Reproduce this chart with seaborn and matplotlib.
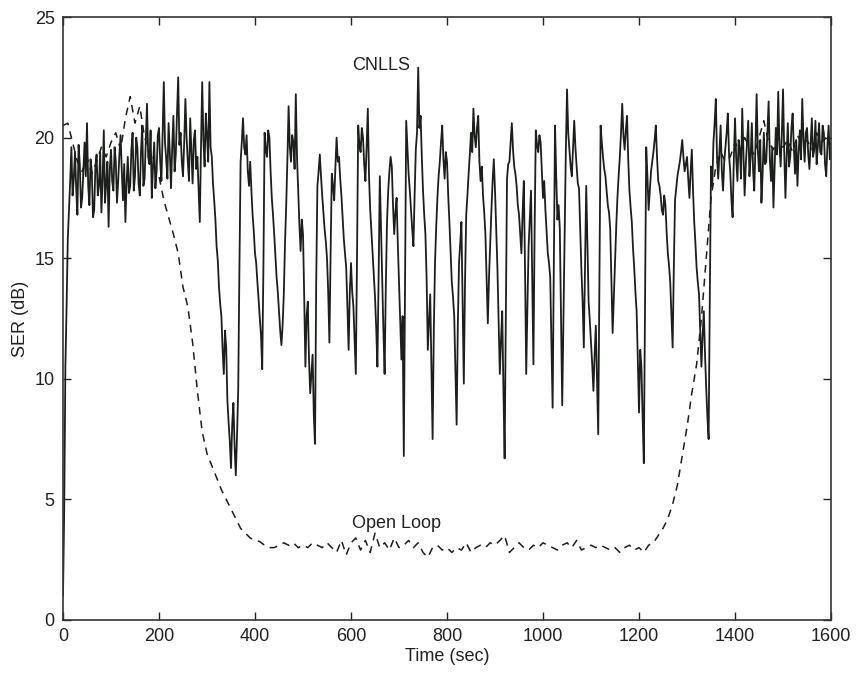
import numpy as np
import pandas as pd
import matplotlib
matplotlib.use("Agg")
import matplotlib.pyplot as plt
import seaborn as sns

# ---- data ----
cnlls_step = 2.5  # seconds between CNLLS samples
cnlls_ser = [
    # 0 - 97.5 s
    1.0, 4.5, 10.5, 13.0, 15.8, 17.0, 18.2, 19.6, 17.6, 18.3,
    19.4, 17.9, 16.8, 19.7, 18.9, 17.1, 17.5, 18.6, 19.8, 18.4,
    20.6, 18.0, 17.2, 19.1, 18.6, 16.7, 17.0, 18.8, 19.3, 17.6,
    18.0, 19.4, 16.9, 18.2, 20.3, 17.3, 18.1, 19.0, 16.3, 18.7,
    # 100 - 197.5 s
    19.5, 18.2, 17.8, 19.6, 19.0, 17.3, 18.2, 19.3, 20.1, 18.6,
    17.4, 18.9, 16.5, 18.1, 19.2, 17.7, 18.0, 19.5, 20.2, 17.8,
    18.4, 20.0, 19.6, 18.1, 17.6, 19.4, 20.5, 18.0, 18.3, 19.9,
    21.4, 19.2, 18.9, 20.3, 17.5, 18.8, 19.8, 17.9, 18.6, 20.1,
    # 200 - 297.5 s
    20.4, 19.0, 18.2, 20.1, 22.3, 19.8, 19.1, 18.3, 20.6, 19.4,
    17.9, 19.6, 20.9, 18.6, 19.3, 21.0, 22.5, 19.7, 20.2, 19.0,
    18.4, 19.8, 21.6, 20.0, 19.0, 18.2, 20.8, 19.5, 18.1, 19.9,
    20.3, 18.7, 19.2, 17.8, 16.5, 19.6, 22.3, 19.9, 18.8, 21.0,
    # 300 - 397.5 s
    20.1, 19.0, 22.3, 19.6, 19.2, 18.1, 17.4, 16.6, 15.5, 14.9,
    13.8, 13.1, 12.6, 11.2, 10.2, 12.0, 11.3, 9.1, 8.2, 7.4,
    6.3, 8.1, 9.0, 7.2, 6.0, 7.6, 9.5, 14.5, 19.0, 19.8,
    20.8, 19.6, 19.3, 20.1, 18.6, 18.0, 19.0, 17.8, 16.8, 16.1,
    # 400 - 497.5 s
    15.2, 14.8, 14.0, 13.3, 12.5, 11.8, 10.4, 14.6, 20.2, 19.5,
    19.2, 20.3, 20.0, 18.6, 17.5, 16.8, 16.0, 15.1, 14.2, 13.6,
    12.8, 12.0, 11.4, 12.2, 13.5, 15.6, 17.2, 19.1, 21.3, 19.6,
    19.0, 20.1, 19.8, 18.7, 21.8, 19.2, 17.8, 16.4, 15.3, 16.6,
    # 500 - 597.5 s
    16.0, 13.4, 10.5, 12.6, 13.2, 10.8, 9.4, 10.2, 11.0, 8.5,
    7.3, 14.0, 18.0, 18.6, 19.3, 18.4, 17.6, 16.9, 16.2, 15.7,
    15.0, 13.6, 11.5, 15.2, 18.5, 18.0, 17.4, 18.8, 20.0, 19.0,
    19.2, 18.3, 17.6, 16.7, 15.8, 15.2, 14.6, 13.0, 11.2, 13.6,
    # 600 - 697.5 s
    14.8, 13.6, 13.0, 11.6, 10.2, 15.0, 20.5, 19.7, 19.4, 20.4,
    20.0, 18.9, 18.2, 19.6, 21.2, 18.4, 17.0, 16.1, 15.2, 14.3,
    13.4, 12.1, 10.5, 14.2, 18.4, 16.2, 14.0, 12.0, 10.2, 13.8,
    16.5, 17.8, 18.6, 19.2, 18.8, 17.2, 16.0, 16.9, 17.5, 15.6,
    # 700 - 797.5 s
    14.0, 12.3, 10.8, 12.6, 6.8, 13.5, 20.7, 19.6, 18.5, 17.8,
    17.0, 16.2, 15.5, 17.6, 19.5, 20.2, 22.9, 20.4, 20.9, 19.2,
    17.8, 16.8, 16.0, 14.2, 11.2, 12.4, 13.5, 10.6, 7.5, 12.0,
    14.8, 16.3, 17.5, 18.4, 19.0, 19.8, 20.5, 19.1, 18.3, 19.4,
    # 800 - 897.5 s
    19.0, 17.6, 16.5, 15.2, 14.0, 13.4, 12.6, 10.4, 8.1, 12.2,
    14.8, 15.6, 16.5, 13.0, 9.8, 14.0, 16.8, 17.6, 18.5, 19.3,
    20.2, 19.4, 21.2, 20.1, 19.6, 20.4, 20.9, 19.0, 18.2, 18.8,
    17.6, 16.9, 16.0, 14.1, 12.3, 14.2, 15.6, 17.0, 18.2, 19.1,
    # 900 - 997.5 s
    17.8, 16.2, 14.6, 12.4, 10.2, 11.6, 12.8, 9.6, 6.7, 12.5,
    18.3, 18.9, 19.0, 19.8, 20.6, 19.5, 18.8, 18.5, 18.0, 17.2,
    16.8, 16.0, 15.2, 16.9, 18.2, 14.6, 10.2, 13.0, 15.5, 16.7,
    17.8, 14.2, 10.6, 16.2, 20.3, 19.7, 19.4, 20.1, 19.8, 18.6,
    # 1000 - 1097.5 s
    17.5, 18.2, 17.0, 16.1, 15.2, 14.8, 14.2, 11.5, 8.8, 14.6,
    20.5, 18.4, 16.6, 17.2, 16.2, 12.6, 8.9, 12.5, 16.0, 19.4,
    22.0, 20.2, 19.5, 18.8, 18.4, 19.6, 20.7, 19.6, 18.8, 18.1,
    17.9, 16.2, 14.5, 13.2, 11.3, 14.6, 18.0, 15.6, 13.2, 12.4,
    # 1100 - 1197.5 s
    11.5, 10.6, 9.5, 11.0, 12.2, 10.0, 7.7, 14.0, 20.5, 19.8,
    19.2, 18.7, 18.4, 17.8, 17.2, 16.9, 16.2, 14.0, 11.9, 13.4,
    15.0, 16.3, 17.5, 18.4, 19.2, 20.2, 21.4, 20.1, 19.5, 20.3,
    20.9, 19.1, 17.8, 17.1, 16.5, 15.4, 14.6, 13.6, 12.8, 10.8,
    # 1200 - 1297.5 s
    8.6, 11.2, 10.5, 8.4, 6.5, 13.0, 19.6, 18.4, 17.0, 17.8,
    18.6, 19.0, 19.4, 19.9, 20.5, 19.2, 18.2, 18.0, 17.6, 17.0,
    16.8, 17.6, 17.2, 16.1, 15.2, 14.7, 14.0, 12.6, 11.3, 14.6,
    17.4, 17.9, 18.4, 18.7, 19.0, 19.4, 19.9, 19.2, 18.6, 18.9,
    # 1300 - 1397.5 s
    19.2, 18.3, 17.5, 18.6, 19.5, 17.8, 16.5, 15.6, 14.6, 14.0,
    13.5, 12.0, 10.5, 11.8, 12.8, 11.0, 9.6, 8.4, 7.5, 13.5,
    18.8, 18.0, 19.8, 20.6, 21.6, 19.2, 18.3, 19.4, 20.5, 18.6,
    17.8, 19.0, 19.6, 20.2, 21.0, 19.3, 18.6, 17.4, 16.7, 19.1,
    # 1400 - 1497.5 s
    20.8, 19.1, 18.2, 19.9, 19.5, 18.3, 21.2, 19.4, 17.6, 18.9,
    19.8, 20.7, 18.4, 19.2, 20.6, 18.7, 17.8, 19.6, 21.8, 19.5,
    18.6, 19.9, 17.3, 18.5, 20.2, 18.9, 19.0, 20.3, 21.5, 19.1,
    18.2, 19.6, 17.1, 18.8, 20.4, 19.3, 21.9, 19.7, 18.8, 20.1,
    # 1500 - 1600 s
    22.0, 19.4, 17.5, 19.2, 20.6, 18.8, 19.2, 20.4, 21.0, 19.6,
    18.5, 19.9, 18.0, 19.4, 20.3, 19.1, 21.6, 20.0, 19.0, 20.2,
    20.4, 19.3, 18.7, 19.8, 20.8, 19.2, 19.5, 20.7, 18.9, 19.6,
    20.6, 19.4, 19.3, 20.5, 20.2, 18.9, 18.4, 19.7, 20.5, 19.1,
    19.6,
]
cnlls_time = np.arange(len(cnlls_ser)) * cnlls_step

open_time = [
    0, 10, 20, 30, 40, 50, 60, 70, 80, 90,
    100, 110, 120, 130, 140, 150, 160, 170, 180, 190,
    200, 210, 220, 230, 240, 250, 260, 270, 280, 290,
    300, 310, 320, 330, 340, 350, 360, 370, 380, 390,
    400, 410, 420, 430, 440, 450, 460, 470, 480, 490,
    500, 510, 520, 530, 540, 550, 560, 570, 580, 590,
    600, 610, 620, 630, 640, 650, 660, 670, 680, 690,
    700, 710, 720, 730, 740, 750, 760, 770, 780, 790,
    800, 810, 820, 830, 840, 850, 860, 870, 880, 890,
    900, 910, 920, 930, 940, 950, 960, 970, 980, 990,
    1000, 1010, 1020, 1030, 1040, 1050, 1060, 1070, 1080, 1090,
    1100, 1110, 1120, 1130, 1140, 1150, 1160, 1170, 1180, 1190,
    1200, 1210, 1220, 1230, 1240, 1250, 1260, 1270, 1280, 1290,
    1300, 1310, 1320, 1330, 1340, 1350, 1360, 1370, 1380, 1390,
    1400, 1410, 1420, 1430, 1440, 1450, 1460, 1470, 1480, 1490,
    1500, 1510, 1520, 1530, 1540, 1550, 1560, 1570, 1580, 1590,
    1600,
]
open_ser = [
    20.5, 20.6, 19.8, 19.0, 18.6, 19.2, 18.5, 19.0, 19.6, 19.2,
    19.8, 20.2, 19.5, 20.8, 21.7, 20.6, 21.3, 20.0, 19.5, 18.8,
    18.4, 17.4, 16.7, 16.0, 15.2, 13.8, 13.0, 11.5, 9.5, 7.8,
    6.9, 6.4, 5.9, 5.4, 5.0, 4.6, 4.2, 3.8, 3.6, 3.4,
    3.3, 3.25, 3.1, 3.0, 3.0, 3.1, 3.2, 3.1, 3.2, 3.0,
    3.1, 3.0, 3.2, 3.1, 3.0, 3.2, 3.0, 2.8, 3.3, 2.7,
    3.2, 3.4, 2.9, 3.3, 2.8, 3.6, 3.0, 3.2, 2.9, 3.4,
    3.0, 3.1, 3.3, 3.0, 3.2, 2.8, 2.6, 3.0, 3.1, 2.9,
    3.0, 2.8, 3.0, 2.9, 3.2, 2.8, 3.0, 3.1, 3.0, 3.2,
    3.1, 3.3, 3.5, 2.8, 3.0, 3.2, 3.0, 2.9, 3.1, 3.0,
    3.2, 3.1, 3.0, 2.9, 3.1, 3.2, 3.0, 3.3, 2.9, 3.0,
    3.1, 3.0, 3.1, 3.0, 2.9, 3.0, 2.8, 3.0, 3.1, 2.9,
    3.0, 2.8, 3.1, 3.2, 3.5, 3.8, 4.2, 4.8, 5.6, 6.8,
    8.0, 9.4, 10.6, 12.5, 15.0, 17.5, 18.8, 19.4, 19.0, 19.2,
    19.8, 19.4, 20.0, 19.6, 19.3, 20.0, 20.7, 19.8, 19.5, 20.0,
    19.6, 19.9, 19.4, 20.1, 19.7, 19.9, 19.5, 20.2, 19.8, 20.0,
    19.7,
]

x_ticks = [0, 200, 400, 600, 800, 1000, 1200, 1400, 1600]
y_ticks = [0, 5, 10, 15, 20, 25]
x_label = "Time (sec)"
y_label = "SER (dB)"
label_cnlls = "CNLLS"
label_open = "Open Loop"

# ---- plotting ----
sns.set_style("ticks")
plt.rcParams["font.family"] = ["Liberation Sans", "DejaVu Sans"]

fig = plt.figure(figsize=(8.57, 6.75), dpi=100)
ax = fig.add_axes([0.0735, 0.0815, 0.8962, 0.8933])

line_color = "#1c1f1c"
df_open = pd.DataFrame({"t": open_time, "ser": open_ser})
df_cnlls = pd.DataFrame({"t": cnlls_time, "ser": cnlls_ser})

sns.lineplot(data=df_open, x="t", y="ser", ax=ax, color=line_color,
             linewidth=1.1, linestyle=(0, (5, 4)), estimator=None, sort=False)
sns.lineplot(data=df_cnlls, x="t", y="ser", ax=ax, color=line_color,
             linewidth=1.3, estimator=None, sort=False)

ax.set_xlim(0, 1600)
ax.set_ylim(0, 25)
ax.set_xticks(x_ticks)
ax.set_yticks(y_ticks)
ax.set_xlabel(x_label, fontsize=13, labelpad=2, color="#222222")
ax.set_ylabel(y_label, fontsize=13, labelpad=4, color="#222222")
ax.tick_params(direction="in", length=6, width=1, top=True, right=True,
               labelsize=13, colors="#222222", pad=6)
for s in ax.spines.values():
    s.set_visible(True)
    s.set_linewidth(1.2)
    s.set_color("#333333")

ax.text(602, 23.0, label_cnlls, fontsize=13, ha="left", va="center", color="#222222")
ax.text(602, 4.0, label_open, fontsize=13, ha="left", va="center", color="#222222")

fig.savefig("out.png", dpi=100, facecolor="white")
